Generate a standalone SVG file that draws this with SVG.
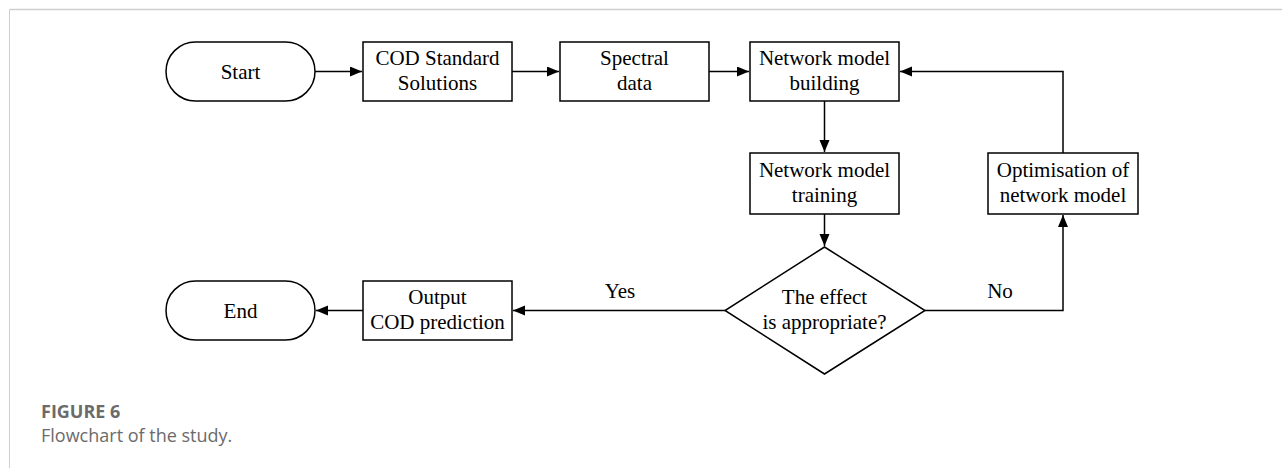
<svg xmlns="http://www.w3.org/2000/svg" width="1282" height="468" viewBox="0 0 1282 468">
<style>
.shape{fill:#fff;stroke:#000;stroke-width:1.5}
.lbl{font-family:"Liberation Serif","Times New Roman",serif;font-size:21px;fill:#000;text-anchor:middle}
.conn{fill:none;stroke:#000;stroke-width:1.5}
.cap1{font-family:"Open Sans",sans-serif;font-size:18px;font-weight:bold;fill:#6b6b6b}
.cap2{font-family:"Open Sans",sans-serif;font-size:18px;fill:#6b6b6b}
</style>
<defs>
<marker id="arr" markerUnits="userSpaceOnUse" markerWidth="13" markerHeight="11" refX="12" refY="5" orient="auto">
<path d="M0,0 L12,5 L0,10 z" fill="#000"/>
</marker>
</defs>
<rect width="1282" height="468" fill="#fff"/>
<g id="frame">
<line x1="9.5" y1="9.5" x2="1282" y2="9.5" stroke="#cfcfcf" stroke-width="1.5"/>
<line x1="9.5" y1="9.5" x2="9.5" y2="468" stroke="#cfcfcf" stroke-width="1"/>
</g>
<g id="connectors">
<path class="conn" d="M315,71.5 H362" marker-end="url(#arr)"/>
<path class="conn" d="M512,71.5 H559" marker-end="url(#arr)"/>
<path class="conn" d="M709,71.5 H749" marker-end="url(#arr)"/>
<path class="conn" d="M824.5,101 V152" marker-end="url(#arr)"/>
<path class="conn" d="M824.5,214 V246" marker-end="url(#arr)"/>
<path class="conn" d="M925,310.5 H1063 V215" marker-end="url(#arr)"/>
<path class="conn" d="M1063,153 V71.5 H900" marker-end="url(#arr)"/>
<path class="conn" d="M725,310.5 H513" marker-end="url(#arr)"/>
<path class="conn" d="M363,310.5 H316" marker-end="url(#arr)"/>
<text class="lbl" x="620" y="298">Yes</text>
<text class="lbl" x="1000" y="298">No</text>
</g>
<g id="start">
<rect class="shape" x="166" y="42" width="149" height="59" rx="29.5"/>
<text class="lbl" x="240.5" y="79">Start</text>
</g>
<g id="cod">
<rect class="shape" x="363" y="42" width="149" height="59"/>
<text class="lbl" x="437.5" y="65">COD Standard</text>
<text class="lbl" x="437.5" y="90">Solutions</text>
</g>
<g id="spectral">
<rect class="shape" x="560" y="42" width="149" height="59"/>
<text class="lbl" x="634.5" y="65">Spectral</text>
<text class="lbl" x="634.5" y="90">data</text>
</g>
<g id="building">
<rect class="shape" x="750" y="42" width="149" height="59"/>
<text class="lbl" x="824.5" y="65">Network model</text>
<text class="lbl" x="824.5" y="90">building</text>
</g>
<g id="training">
<rect class="shape" x="750" y="153" width="149" height="61"/>
<text class="lbl" x="824.5" y="177">Network model</text>
<text class="lbl" x="824.5" y="202">training</text>
</g>
<g id="optimisation">
<rect class="shape" x="988" y="153" width="150" height="61"/>
<text class="lbl" x="1063" y="177">Optimisation of</text>
<text class="lbl" x="1063" y="202">network model</text>
</g>
<g id="decision">
<polygon class="shape" points="824.5,247 925,310.5 824.5,374 725,310.5"/>
<text class="lbl" x="824.5" y="304">The effect</text>
<text class="lbl" x="824.5" y="329">is appropriate?</text>
</g>
<g id="output">
<rect class="shape" x="363" y="281" width="149" height="59"/>
<text class="lbl" x="437.5" y="304">Output</text>
<text class="lbl" x="437.5" y="329">COD prediction</text>
</g>
<g id="end">
<rect class="shape" x="166" y="281" width="149" height="59" rx="29.5"/>
<text class="lbl" x="240.5" y="318">End</text>
</g>
<g id="caption">
<text class="cap1" x="41" y="418">FIGURE 6</text>
<text class="cap2" x="41" y="442">Flowchart of the study.</text>
</g>
</svg>
